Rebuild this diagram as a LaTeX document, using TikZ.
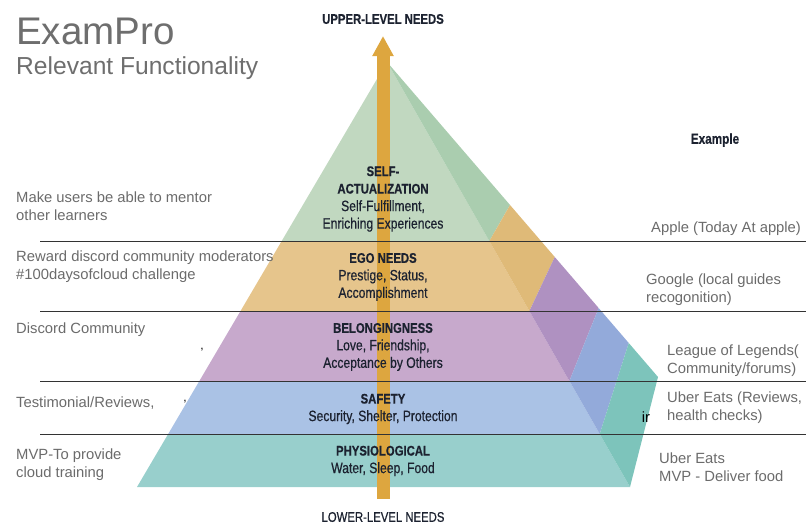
\documentclass[tikz,border=0pt]{standalone}
\usepackage{fontspec}
\setmainfont{Liberation Sans}
\newfontfamily\narrowfont[FakeStretch=0.81,FakeBold=0.6]{Liberation Sans}
\usetikzlibrary{arrows.meta, calc}

\definecolor{txtgray}{HTML}{6B6B6B}
\definecolor{headgray}{HTML}{6E6E6E}
\definecolor{inkdark}{HTML}{1C2230}
\definecolor{arrowgold}{HTML}{DDA63F}
\definecolor{frontA}{HTML}{C1D8C0}
\definecolor{sideA}{HTML}{AACDAF}
\definecolor{frontB}{HTML}{E6C58C}
\definecolor{sideB}{HTML}{DFBA78}
\definecolor{frontC}{HTML}{C7A9CC}
\definecolor{sideC}{HTML}{AF91C1}
\definecolor{frontD}{HTML}{AAC2E5}
\definecolor{sideD}{HTML}{93AADA}
\definecolor{frontE}{HTML}{98CFCC}
\definecolor{sideE}{HTML}{7DC4BB}

\newcommand{\hd}[1]{{\bfseries\fontsize{14}{17.5}\selectfont #1}}

\begin{document}
\begin{tikzpicture}[x=1pt,y=-1pt,
    note/.style={anchor=west,align=left,inner sep=0pt,text=txtgray,
                 font=\fontsize{14.8}{18}\selectfont},
    level/.style={align=center,inner sep=0pt,text=inkdark,
                  font=\narrowfont\fontsize{15}{17.5}\selectfont},
    rule/.style={draw=black!80,line width=0.9pt}]
  \useasboundingbox (0,0) rectangle (812,531);

  \coordinate (apex) at (387,62);
  \coordinate (bl) at (137,487);
  \coordinate (br) at (630,487);
  \coordinate (bk) at (658,377);

  \foreach \ft/\fb/\st/\sb/\cf/\cs in {0/0.4212/0/0.454/frontA/sideA,
      0.4212/0.5859/0.454/0.619/frontB/sideB,
      0.5859/0.7506/0.619/0.781/frontC/sideC,
      0.7506/0.8753/0.781/0.892/frontD/sideD,
      0.8753/1/0.892/1/frontE/sideE}{
    \fill[\cf] ($(apex)!\ft!(bl)$) -- ($(apex)!\ft!(br)$)
               -- ($(apex)!\fb!(br)$) -- ($(apex)!\fb!(bl)$) -- cycle;
    \fill[\cs] ($(apex)!\ft!(br)$) -- ($(apex)!\st!(bk)$)
               -- ($(apex)!\sb!(bk)$) -- ($(apex)!\fb!(br)$) -- cycle;
  }

  \coordinate (low) at (383,499);
  \coordinate (high) at (383,36);
  \draw[arrowgold,line width=13pt,-{Triangle[width=20pt,length=20pt]}] (low) -- (high);

  \foreach \y in {241,311,381,434}
    \draw[rule] (40,\y) -- (806,\y);

  \node[anchor=west,inner sep=0pt,text=headgray,font=\fontsize{38.5}{40}\selectfont]
    (title) at (16,31) {ExamPro};
  \node[anchor=west,inner sep=0pt,text=headgray,font=\fontsize{24.6}{28}\selectfont]
    (subtitle) at (16,68) {Relevant Functionality};

  \node[level,font=\narrowfont\bfseries\fontsize{14}{17}\selectfont] (upper) at (383,19) {UPPER-LEVEL NEEDS};
  \node[level,font=\narrowfont\fontsize{14}{17}\selectfont] (lower) at (383,517) {LOWER-LEVEL NEEDS};
  \node[level,font=\narrowfont\bfseries\fontsize{14.5}{17}\selectfont] (example) at (715,140) {Example};

  \node[level] (selfact) at (383,199) {\hd{SELF-}\\\hd{ACTUALIZATION}\\Self-Fulfillment,\\Enriching Experiences};
  \node[level] (ego) at (383,277) {\hd{EGO NEEDS}\\Prestige, Status,\\Accomplishment};
  \node[level] (belong) at (383,347) {\hd{BELONGINGNESS}\\Love, Friendship,\\Acceptance by Others};
  \node[level] (safety) at (383,409) {\hd{SAFETY}\\Security, Shelter, Protection};
  \node[level] (physio) at (383,461) {\hd{PHYSIOLOGICAL}\\Water, Sleep, Food};

  \node[note] (mentor) at (16,206) {Make users be able to mentor\\other learners};
  \node[note] (reward) at (16,267) {Reward discord community moderators\\\#100daysofcloud challenge};
  \node[note] (discord) at (16,330) {Discord Community};
  \node[note] (testim) at (16,403) {Testimonial/Reviews,};
  \node[note] (mvp) at (16,465) {MVP-To provide\\cloud training};
  \node[inner sep=0pt,font=\fontsize{12}{14}\selectfont] (commaA) at (202,350) {,};
  \node[inner sep=0pt,font=\fontsize{12}{14}\selectfont] (commaB) at (185,402) {,};

  \node[note] (apple) at (651,229) {Apple (Today At apple)};
  \node[note] (google) at (646,290) {Google (local guides\\recogonition)};
  \node[note] (league) at (667,361) {League of Legends(\\Community/forums)};
  \node[note] (ubera) at (667,408) {Uber Eats (Reviews,\\health checks)};
  \node[note] (uberb) at (659,467) {Uber Eats\\MVP - Deliver food};
  \node[inner sep=0pt,font=\fontsize{14.8}{18}\selectfont] (stray) at (646,417) {ir};
\end{tikzpicture}
\end{document}
